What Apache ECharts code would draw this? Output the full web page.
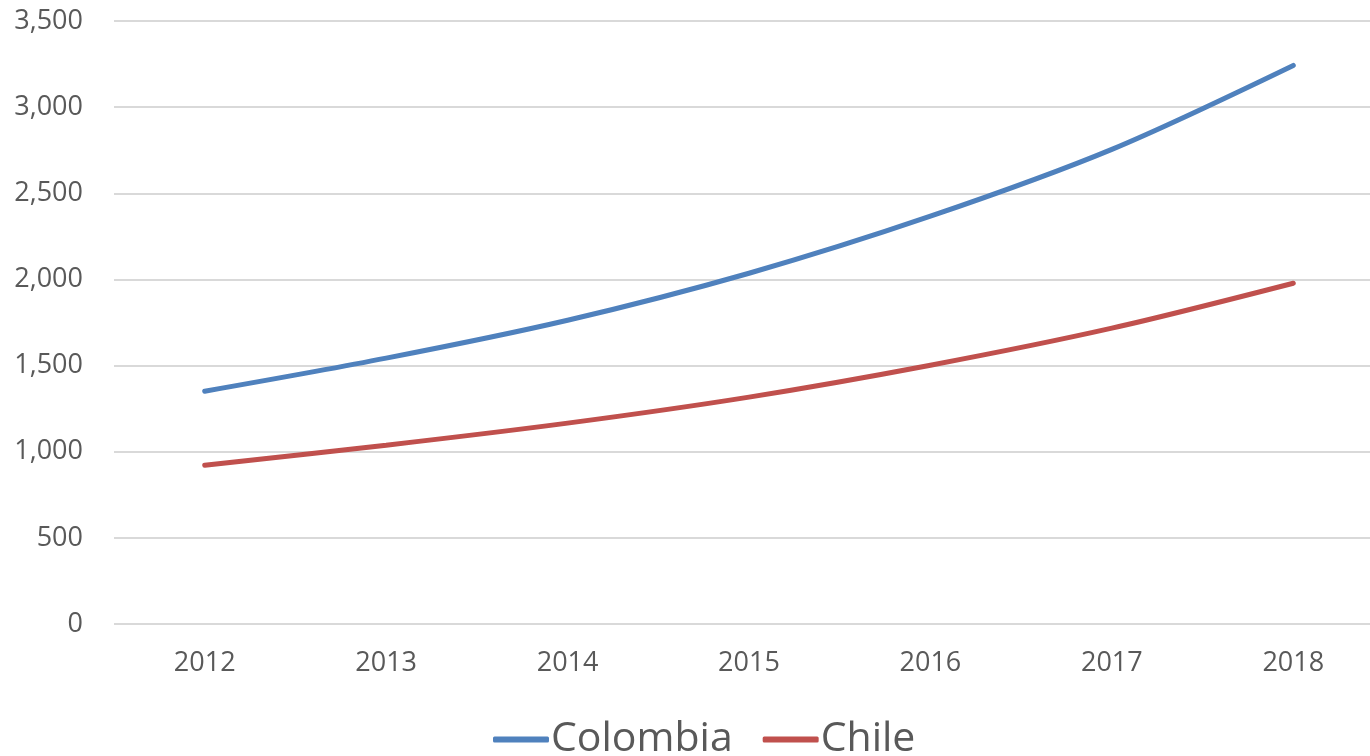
<!DOCTYPE html>
<html><head><meta charset="utf-8">
<script src="https://cdn.jsdelivr.net/npm/echarts@6/dist/echarts.min.js"></script>
<style>html,body{margin:0;padding:0;background:#fff;overflow:hidden;width:1370px;height:756px}#c{width:1384px;height:756px}</style>
</head><body><div id="c"></div>
<script>
const years = ['2012','2013','2014','2015','2016','2017','2018'];
const colombia = [1351, 1543, 1763, 2036, 2367, 2755, 3242];
const chile = [922, 1038, 1166, 1317, 1502, 1717, 1978];
const seriesNames = ['Colombia', 'Chile'];
const chart = echarts.init(document.getElementById('c'));
const font = 'Open Sans';
chart.setOption({
  animation: false,
  grid: {left: 114, right: 0, top: 21, bottom: 132},
  legend: {
    bottom: -9, left: 488, itemWidth: 56, itemHeight: 6, itemGap: 30,
    icon: 'roundRect',
    textStyle: {fontSize: 41, color: '#595959', fontFamily: font, padding: [0,0,0,-3]},
    data: seriesNames
  },
  xAxis: {
    type: 'category', data: years, boundaryGap: true,
    axisLine: {show: false}, axisTick: {show: false},
    axisLabel: {fontSize: 27, color: '#595959', fontFamily: font, margin: 26}
  },
  yAxis: {
    type: 'value', min: 0, max: 3500, interval: 500,
    axisLine: {show: false}, axisTick: {show: false},
    axisLabel: {fontSize: 27, color: '#595959', fontFamily: font, margin: 31,
      formatter: v => v.toLocaleString('en-US')},
    splitLine: {lineStyle: {color: '#d9d9d9', width: 2}}
  },
  series: [
    {name: seriesNames[0], type: 'line', data: colombia, smooth: 0.3, symbol: 'none',
     lineStyle: {color: '#4f81bd', width: 5, cap: 'round'}, itemStyle: {color: '#4f81bd'}},
    {name: seriesNames[1], type: 'line', data: chile, smooth: 0.3, symbol: 'none',
     lineStyle: {color: '#c0504d', width: 5, cap: 'round'}, itemStyle: {color: '#c0504d'}}
  ]
});
</script></body></html>
